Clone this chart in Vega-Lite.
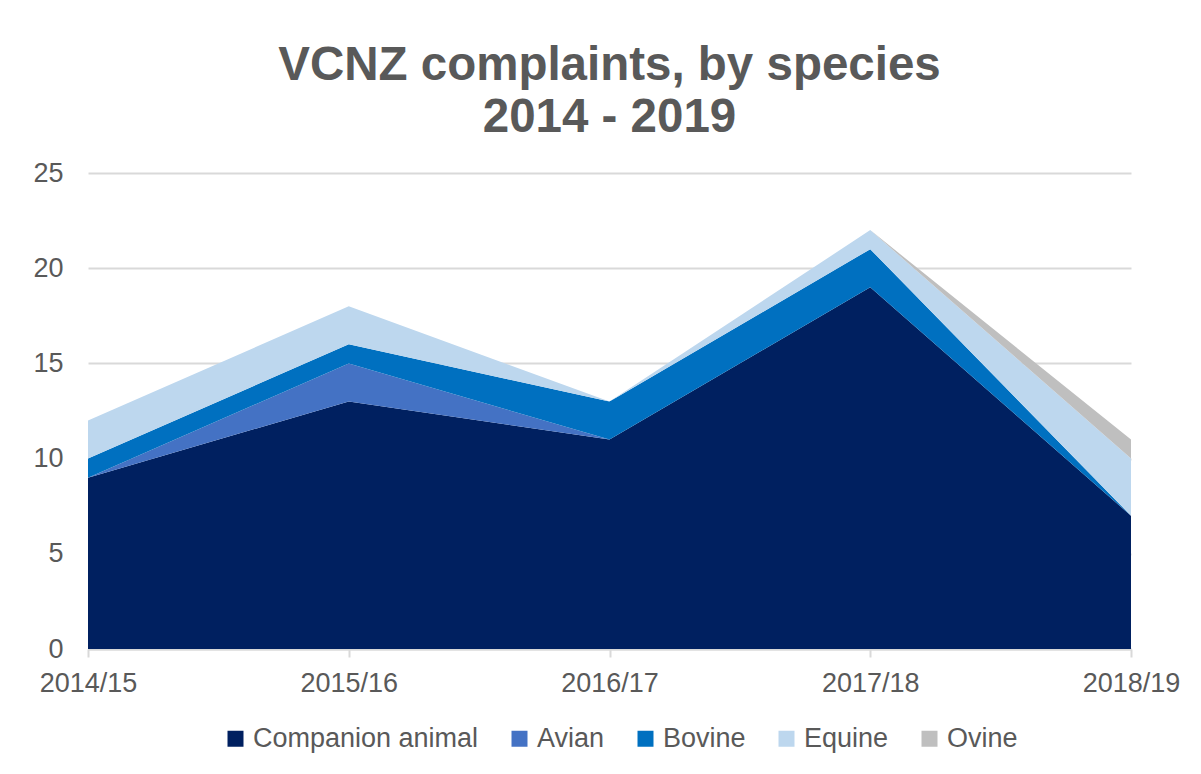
{
  "$schema": "https://vega.github.io/schema/vega-lite/v6.json",
  "width": 1043,
  "height": 476,
  "autosize": {"type": "none"},
  "padding": {"left": 88, "top": 173, "right": 70, "bottom": 125},
  "background": "white",
  "title": {
    "text": ["VCNZ complaints, by species", "2014 - 2019"],
    "anchor": "middle",
    "frame": "group",
    "font": "Liberation Sans",
    "fontSize": 47.5,
    "fontWeight": "bold",
    "color": "#595959",
    "lineHeight": 52,
    "offset": 18
  },
  "data": {
    "values": [
      {"year": "2014/15", "species": "Companion animal", "k": 1, "count": 9},
      {"year": "2014/15", "species": "Avian", "k": 2, "count": 0},
      {"year": "2014/15", "species": "Bovine", "k": 3, "count": 1},
      {"year": "2014/15", "species": "Equine", "k": 4, "count": 2},
      {"year": "2014/15", "species": "Ovine", "k": 5, "count": 0},
      {"year": "2015/16", "species": "Companion animal", "k": 1, "count": 13},
      {"year": "2015/16", "species": "Avian", "k": 2, "count": 2},
      {"year": "2015/16", "species": "Bovine", "k": 3, "count": 1},
      {"year": "2015/16", "species": "Equine", "k": 4, "count": 2},
      {"year": "2015/16", "species": "Ovine", "k": 5, "count": 0},
      {"year": "2016/17", "species": "Companion animal", "k": 1, "count": 11},
      {"year": "2016/17", "species": "Avian", "k": 2, "count": 0},
      {"year": "2016/17", "species": "Bovine", "k": 3, "count": 2},
      {"year": "2016/17", "species": "Equine", "k": 4, "count": 0},
      {"year": "2016/17", "species": "Ovine", "k": 5, "count": 0},
      {"year": "2017/18", "species": "Companion animal", "k": 1, "count": 19},
      {"year": "2017/18", "species": "Avian", "k": 2, "count": 0},
      {"year": "2017/18", "species": "Bovine", "k": 3, "count": 2},
      {"year": "2017/18", "species": "Equine", "k": 4, "count": 1},
      {"year": "2017/18", "species": "Ovine", "k": 5, "count": 0},
      {"year": "2018/19", "species": "Companion animal", "k": 1, "count": 7},
      {"year": "2018/19", "species": "Avian", "k": 2, "count": 0},
      {"year": "2018/19", "species": "Bovine", "k": 3, "count": 0},
      {"year": "2018/19", "species": "Equine", "k": 4, "count": 3},
      {"year": "2018/19", "species": "Ovine", "k": 5, "count": 1}
    ]
  },
  "mark": {"type": "area", "opacity": 1},
  "encoding": {
    "x": {
      "field": "year",
      "type": "ordinal",
      "scale": {"type": "point", "padding": 0},
      "axis": {
        "title": null,
        "labelAngle": 0,
        "labelFont": "Liberation Sans",
        "labelFontSize": 27,
        "labelColor": "#595959",
        "domainColor": "#d9d9d9",
        "domainWidth": 2,
        "tickColor": "#d9d9d9",
        "tickWidth": 2,
        "tickSize": 8,
        "labelPadding": 13,
        "grid": false
      }
    },
    "y": {
      "field": "count",
      "type": "quantitative",
      "stack": "zero",
      "scale": {"domain": [0, 25], "nice": false},
      "axis": {
        "title": null,
        "values": [0, 5, 10, 15, 20, 25],
        "labelFont": "Liberation Sans",
        "labelFontSize": 27,
        "labelColor": "#595959",
        "labelPadding": 25,
        "domain": false,
        "ticks": false,
        "gridColor": "#d9d9d9",
        "gridWidth": 2
      }
    },
    "color": {
      "field": "species",
      "type": "nominal",
      "scale": {
        "domain": ["Companion animal", "Avian", "Bovine", "Equine", "Ovine"],
        "range": ["#002060", "#4472C4", "#0070C0", "#BDD7EE", "#BFBFBF"]
      },
      "legend": {
        "title": null,
        "orient": "none",
        "legendX": 134,
        "legendY": 552,
        "direction": "horizontal",
        "symbolType": "square",
        "symbolSize": 256,
        "symbolStrokeWidth": 0,
        "labelFont": "Liberation Sans",
        "labelFontSize": 27,
        "labelColor": "#595959",
        "labelLimit": 400,
        "labelOffset": 4,
        "columnPadding": 27
      }
    },
    "order": {"field": "k", "type": "quantitative", "sort": "ascending"}
  },
  "config": {
    "view": {"stroke": null},
    "axis": {"gridDash": []}
  }
}
